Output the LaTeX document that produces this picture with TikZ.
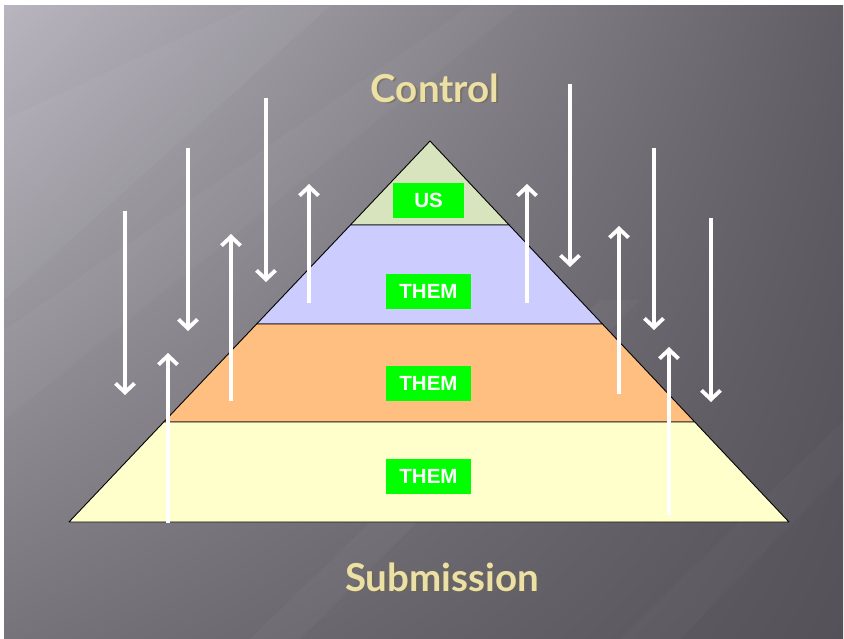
\documentclass[tikz,border=0pt]{standalone}
\usepackage{fontspec}
\setmainfont{Liberation Sans}
\newfontfamily\titlefont{Lato}
\usetikzlibrary{arrows.meta,calc,shadings}
\definecolor{bgTL}{RGB}{184,181,190}
\definecolor{bgTR}{RGB}{96,93,100}
\definecolor{bgBL}{RGB}{118,115,122}
\definecolor{bgBR}{RGB}{84,81,88}
\definecolor{layA}{RGB}{215,228,189}
\definecolor{layB}{RGB}{204,204,255}
\definecolor{layC}{RGB}{255,191,128}
\definecolor{layD}{RGB}{255,255,204}
\definecolor{tagGreen}{RGB}{0,255,0}
\definecolor{titleCol}{RGB}{236,224,164}
\definecolor{titleShade}{RGB}{110,102,70}
\tikzset{
  layer/.style={draw=black, line width=0.9pt, line join=round},
  tag/.style={fill=tagGreen, text=white, font=\fontsize{20.5}{20.5}\selectfont\bfseries, inner sep=0pt, minimum height=35pt},
  flow/.style={draw=white, line width=3.8pt, -{Straight Barb[length=9pt,width=19pt]}},
  title/.style={text=titleCol, font=\titlefont\bfseries\fontsize{38.5}{38.5}\selectfont},
  titleshadow/.style={text=titleShade, opacity=0.55, font=\titlefont\bfseries\fontsize{38.5}{38.5}\selectfont}
}
\begin{document}
\begin{tikzpicture}[x=1pt,y=-1pt]
\useasboundingbox (0,0) rectangle (844,639);
\fill[white] (0,0) rectangle (844,639);
% background
\shade[upper left=bgTL, upper right=bgTR, lower left=bgBL, lower right=bgBR] (4,6) rectangle (843,639);
\fill[white, opacity=0.04] (4,120) -- (250,6) -- (330,6) -- (4,300) -- cycle;
\fill[white, opacity=0.03] (4,330) -- (470,6) -- (520,6) -- (4,420) -- cycle;
\fill[white, opacity=0.03] (250,639) -- (600,300) -- (640,300) -- (300,639) -- cycle;
\fill[white, opacity=0.025] (620,639) -- (844,420) -- (844,470) -- (680,639) -- cycle;
% pyramid
\coordinate (apex) at (430,141);
\coordinate (bl) at (69,522);
\coordinate (br) at (789,522);
\coordinate (l1) at ($(apex)!0.2205!(bl)$);
\coordinate (r1) at ($(apex)!0.2205!(br)$);
\coordinate (l2) at ($(apex)!0.4803!(bl)$);
\coordinate (r2) at ($(apex)!0.4803!(br)$);
\coordinate (l3) at ($(apex)!0.7375!(bl)$);
\coordinate (r3) at ($(apex)!0.7375!(br)$);
\filldraw[layer, fill=layA] (apex) -- (r1) -- (l1) -- cycle;
\filldraw[layer, fill=layB] (l1) -- (r1) -- (r2) -- (l2) -- cycle;
\filldraw[layer, fill=layC] (l2) -- (r2) -- (r3) -- (l3) -- cycle;
\filldraw[layer, fill=layD] (l3) -- (r3) -- (br) -- (bl) -- cycle;
% tags
\node[tag, minimum width=71pt] (us) at (428.5,200.5) {US};
\node[tag, minimum width=85pt] (them1) at (428.5,291.5) {THEM};
\node[tag, minimum width=85pt] (them2) at (428.5,383.5) {THEM};
\node[tag, minimum width=85pt] (them3) at (428.5,476) {THEM};
% arrows down
\foreach \x/\a/\b in {125/211/395, 188/148/331, 266/98/282, 570/84/267, 654/148/330, 711/218/402}
  \draw[flow] (\x,\a) -- (\x,\b);
% arrows up
\foreach \x/\a/\b in {168/523/353, 231/401/234, 309/303/184, 527/303/184, 619/394/226, 669/515/347}
  \draw[flow] (\x,\a) -- (\x,\b);
% titles
\node[titleshadow] (ctrlS) at (436.5,89.5) {Control};
\node[title] (ctrl) at (435,88) {Control};
\node[titleshadow] (subS) at (443.5,578.5) {Submission};
\node[title] (sub) at (442,577) {Submission};
\end{tikzpicture}
\end{document}
